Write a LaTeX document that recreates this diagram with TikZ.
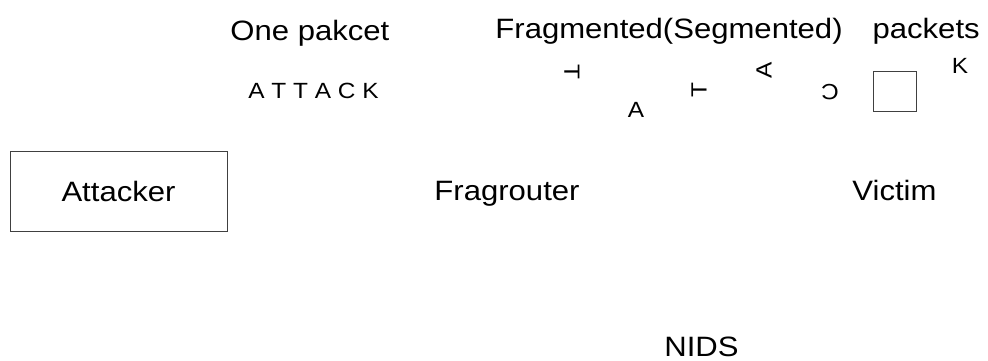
\documentclass[tikz,border=0pt]{standalone}
\usepackage{fontspec}
\setmainfont[FakeStretch=1.11]{Liberation Sans}
\usetikzlibrary{positioning}

\begin{document}
\begin{tikzpicture}[x=0.5pt, y=-0.5pt, every node/.style={inner sep=0pt, font=\fontsize{14}{16}\selectfont},
    small/.style={font=\fontsize{11}{13}\selectfont}, hostbox/.style={draw=black!75, line width=0.5pt}]
        % Fix the page size
        \useasboundingbox (0,0) rectangle (988,360);

        % Draw the hosts
        \node[hostbox, minimum width=108.5pt, minimum height=40pt] (att) at (118.5,191) {Attacker};
        \node[anchor=base] (frag) at (507,200) {Fragrouter};
        \node[anchor=base] (vic) at (894.5,200) {Victim};
        \node[anchor=base] (nids) at (701.5,356) {NIDS};

        % Draw the packet captions
        \node[anchor=base west] (one) at (230,40) {One pakcet};
        \node[anchor=base west] (fragcap) at (495,38) {Fragmented(Segmented)\hspace{15pt}packets};
        \node[small, anchor=base west] (whole) at (248,98.3) {A T T A C K};

        % Draw the fragments, each one turned its own way
        \foreach \name/\ch/\x/\y/\r in {f1/T/572/72/-90, f2/A/636/110/0, f3/T/699/90/90, f4/A/764/70/90, f5/C/830/92/180, f7/K/960/66/0}
        {
          \node[small, rotate=\r] (\name) at (\x,\y) {\ch};
        }
        \node[hostbox, minimum width=21.5pt, minimum height=20pt] (f6) at (894.5,91) {};
      \end{tikzpicture}
\end{document}
